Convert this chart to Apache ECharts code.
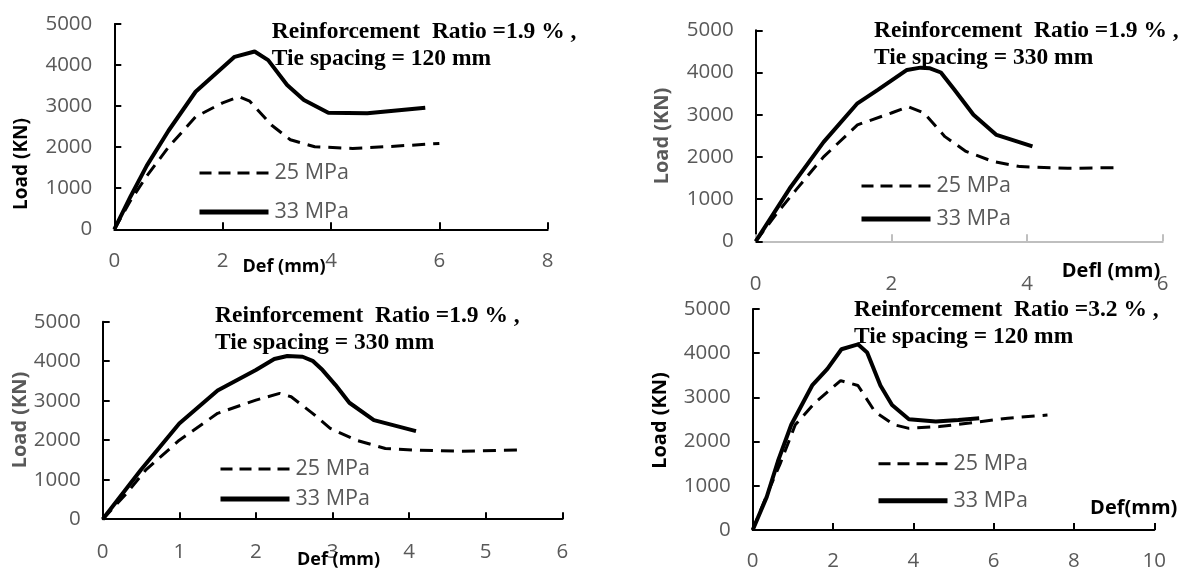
<!DOCTYPE html>
<html>
<head>
<meta charset="UTF-8">
<title>Load - deflection curves</title>
<script src="https://cdn.jsdelivr.net/npm/echarts@6.0.0/dist/echarts.min.js"></script>
<style>
    html, body { margin: 0; padding: 0; background: #fff; }
    #main { width: 1186px; height: 572px; }
</style>
</head>
<body>
<div id="main"></div>
<script>
// series names
var names = ['25 MPa', '33 MPa'];
var yTicks = [0, 1000, 2000, 3000, 4000, 5000];

// chart 1: ratio 1.9 %, ties 120 mm
var def1_25  = [0, 0.3, 0.6, 1.0, 1.5, 2.0, 2.3, 2.5, 2.9, 3.25, 3.7, 4.4, 5.0, 6.0];
var load1_25 = [0, 700, 1300, 2000, 2740, 3080, 3230, 3120, 2540, 2180, 2010, 1970, 2010, 2090];
var def1_33  = [0, 0.3, 0.6, 1.0, 1.5, 2.22, 2.59, 2.84, 3.19, 3.5, 3.95, 4.67, 5.74];
var load1_33 = [0, 800, 1550, 2400, 3350, 4200, 4330, 4120, 3515, 3150, 2840, 2825, 2960];

// chart 2: ratio 1.9 %, ties 330 mm
var def2_25  = [0, 0.33, 0.6, 1.0, 1.5, 2.0, 2.25, 2.48, 2.79, 3.1, 3.5, 3.9, 4.6, 5.3];
var load2_25 = [0, 700, 1230, 2000, 2760, 3040, 3190, 3040, 2480, 2130, 1890, 1770, 1730, 1745];
var def2_33  = [0, 0.5, 1.0, 1.5, 1.8, 2.23, 2.43, 2.57, 2.73, 2.93, 3.21, 3.55, 4.08];
var load2_33 = [0, 1250, 2350, 3270, 3590, 4060, 4115, 4100, 4000, 3590, 3000, 2520, 2250];

// chart 3: same case, other scale
var def3_25  = [0, 0.31, 0.56, 1.0, 1.5, 2.0, 2.31, 2.46, 2.74, 2.97, 3.31, 3.69, 4.07, 4.66, 5.41];
var load3_25 = [0, 650, 1240, 2000, 2680, 3015, 3185, 3100, 2680, 2300, 2000, 1790, 1750, 1720, 1750];
var def3_33  = [0, 0.5, 1.0, 1.5, 2.0, 2.24, 2.41, 2.61, 2.74, 2.87, 3.04, 3.22, 3.54, 4.09];
var load3_33 = [0, 1250, 2424, 3260, 3775, 4054, 4130, 4113, 4010, 3775, 3395, 2948, 2508, 2230];

// chart 4: ratio 3.2 %, ties 120 mm
var def4_25  = [0, 0.4, 0.68, 1.06, 1.53, 2.19, 2.62, 3.04, 3.52, 3.89, 4.65, 5.4, 6.35, 7.34];
var load4_25 = [0, 900, 1490, 2380, 2860, 3380, 3270, 2680, 2380, 2300, 2340, 2420, 2530, 2600];
var def4_33  = [0, 0.35, 0.63, 0.96, 1.48, 1.86, 2.21, 2.62, 2.85, 3.18, 3.47, 3.89, 4.56, 5.12, 5.64];
var load4_33 = [0, 750, 1560, 2380, 3270, 3645, 4090, 4200, 4018, 3270, 2827, 2507, 2455, 2490, 2530];

var titles = [
    'Reinforcement  Ratio =1.9 % ,\nTie spacing = 120 mm',
    'Reinforcement  Ratio =1.9 % ,\nTie spacing = 330 mm',
    'Reinforcement  Ratio =1.9 % ,\nTie spacing = 330 mm',
    'Reinforcement  Ratio =3.2 % ,\nTie spacing = 120 mm'
];
var xMax = [8, 6, 6, 10];
var xStep = [2, 2, 1, 2];

function pairs(xs, ys) {
    var out = [];
    for (var i = 0; i < xs.length; i++) out.push([xs[i], ys[i]]);
    return out;
}

var curves = [
    [pairs(def1_25, load1_25), pairs(def1_33, load1_33)],
    [pairs(def2_25, load2_25), pairs(def2_33, load2_33)],
    [pairs(def3_25, load3_25), pairs(def3_33, load3_33)],
    [pairs(def4_25, load4_25), pairs(def4_33, load4_33)]
];

// layout of the four panels
var grids = [
    { left: 114.3, top: 24,    width: 433.4, height: 205.3 },
    { left: 755.7, top: 30.3,  width: 407,   height: 211 },
    { left: 102.7, top: 321.7, width: 459.6, height: 197.5 },
    { left: 752.7, top: 309,   width: 401.6, height: 222 }
];
var xAxisColor = ['#000', '#bfbfbf', '#000', '#000'];
var xLabelMargin = [21, 32, 22, 21];
var titlePos = [[271.8, 18], [874, 17.5], [215, 302], [854, 296]];
var legendPos = [[197, 162, 17], [859, 175, 11], [218, 458, 8], [876, 452.7, 15]];

var gray = '#595959';
var font = 'Open Sans';

var option = {
    backgroundColor: '#fff',
    animation: false,
    title: [],
    legend: [],
    grid: [],
    xAxis: [],
    yAxis: [],
    series: [],
    graphic: []
};

for (var k = 0; k < 4; k++) {
    option.grid.push(grids[k]);
    option.title.push({
        text: titles[k],
        left: titlePos[k][0],
        top: titlePos[k][1],
        padding: 0,
        textStyle: {
            fontFamily: 'Liberation Serif',
            fontWeight: 'bold',
            fontSize: 23.5,
            lineHeight: 27,
            color: '#000'
        }
    });
    option.xAxis.push({
        type: 'value',
        gridIndex: k,
        min: 0,
        max: xMax[k],
        interval: xStep[k],
        axisLine: { show: true, onZero: false, lineStyle: { color: xAxisColor[k], width: 2 } },
        axisTick: { show: true, inside: true, length: 7, lineStyle: { color: xAxisColor[k], width: 2 } },
        axisLabel: { color: gray, fontSize: 20.5, fontFamily: font, margin: xLabelMargin[k] },
        splitLine: { show: false }
    });
    option.yAxis.push({
        type: 'value',
        gridIndex: k,
        min: yTicks[0],
        max: yTicks[yTicks.length - 1],
        interval: 1000,
        axisLine: { show: true, lineStyle: { color: '#000', width: 2 } },
        axisTick: { show: true, inside: true, length: 7, lineStyle: { color: '#000', width: 2 } },
        axisLabel: {
            color: gray, fontSize: 20.5, fontFamily: font, margin: 22,
            formatter: function (v) { return String(v); }
        },
        splitLine: { show: false }
    });
    option.series.push({
        name: names[0],
        type: 'line',
        xAxisIndex: k,
        yAxisIndex: k,
        data: curves[k][0],
        symbol: 'none',
        lineStyle: { color: '#000', width: 3, type: [13, 8] },
        itemStyle: { color: '#000' },
        z: 2
    });
    option.series.push({
        name: names[1],
        type: 'line',
        xAxisIndex: k,
        yAxisIndex: k,
        data: curves[k][1],
        symbol: 'none',
        lineStyle: { color: '#000', width: 4 },
        itemStyle: { color: '#000' },
        z: 3
    });
    option.legend.push({
        left: legendPos[k][0],
        top: legendPos[k][1],
        orient: 'vertical',
        padding: 0,
        itemWidth: 69,
        itemHeight: 14,
        itemGap: legendPos[k][2],
        selectedMode: false,
        itemStyle: { opacity: 0 },
        data: [
            { name: names[0], lineStyle: { width: 3, type: [12, 7] } },
            { name: names[1], lineStyle: { width: 5 } }
        ],
        textStyle: { color: gray, fontSize: 21.5, fontFamily: font, lineHeight: 20, padding: [0, 0, 0, 1] }
    });
}

// axis titles
var yNames = [
    { x: 21.7,  y: 164,   color: '#000', size: 19 },
    { x: 662.7, y: 136,   color: gray,   size: 20 },
    { x: 20.7,  y: 420,   color: gray,   size: 20 },
    { x: 660.7, y: 420.5, color: '#000', size: 20 }
];
var xNames = [
    { text: 'Def (mm)',  x: 284,    y: 267,   size: 18 },
    { text: 'Defl (mm)', x: 1111,   y: 271.7, size: 20 },
    { text: 'Def (mm)',  x: 338.5,  y: 560,   size: 18 },
    { text: 'Def(mm)',   x: 1133.7, y: 508.3, size: 20 }
];
yNames.forEach(function (n) {
    option.graphic.push({
        type: 'text',
        x: n.x,
        y: n.y,
        rotation: Math.PI / 2,
        z: 10,
        style: {
            text: 'Load (KN)',
            fill: n.color,
            font: 'bold ' + n.size + 'px "Open Sans"',
            textAlign: 'center',
            textVerticalAlign: 'middle'
        }
    });
});
xNames.forEach(function (n) {
    option.graphic.push({
        type: 'text',
        x: n.x,
        y: n.y,
        z: 10,
        style: {
            text: n.text,
            fill: '#000',
            font: 'bold ' + n.size + 'px "Open Sans"',
            textAlign: 'center',
            textVerticalAlign: 'middle'
        }
    });
});

var chart = echarts.init(document.getElementById('main'));
chart.setOption(option);
</script>
</body>
</html>
